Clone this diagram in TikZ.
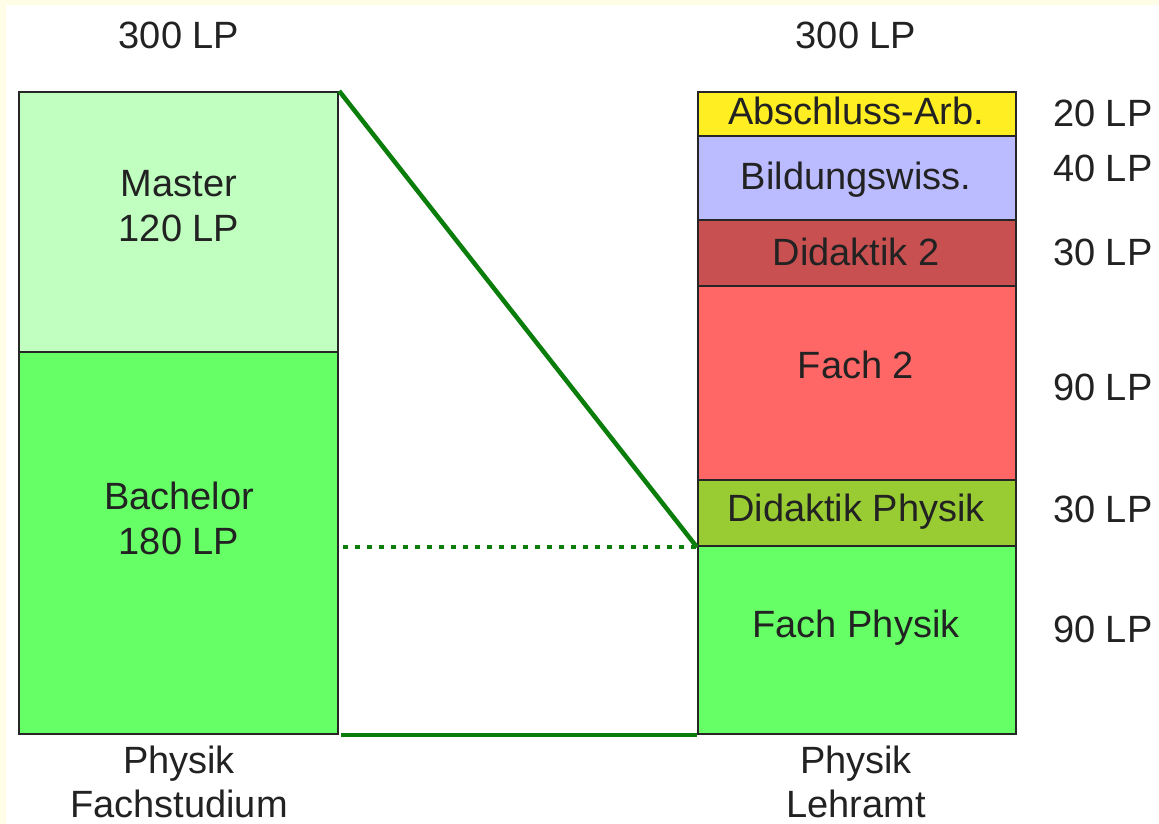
\documentclass[tikz,border=0pt]{standalone}
\usepackage{fontspec}
\setmainfont{Liberation Sans}
\definecolor{cream}{HTML}{FFFDE6}
\definecolor{txt}{HTML}{222222}
\definecolor{cMaster}{HTML}{C0FFC0}
\definecolor{cBach}{HTML}{66FF66}
\definecolor{cAbs}{HTML}{FFEE22}
\definecolor{cBild}{HTML}{BBBBFF}
\definecolor{cDid}{HTML}{C85050}
\definecolor{cFach}{HTML}{FF6666}
\definecolor{cDidP}{HTML}{99CC33}
\definecolor{cFachP}{HTML}{66FF66}
\definecolor{lineG}{HTML}{0B7D0B}
\begin{document}
\begin{tikzpicture}[x=1pt,y=-1pt,
  box/.style={draw=black!85, line width=2.2pt, inner sep=0pt, anchor=north west},
  lbl/.style={font=\fontsize{38}{45}\selectfont, text=txt, anchor=base, inner sep=0pt, align=center},
  lp/.style={font=\fontsize{38}{45}\selectfont, text=txt, anchor=base west, inner sep=0pt},
  conn/.style={draw=lineG, line width=4.5pt},
  dotconn/.style={draw=lineG, line width=4.5pt, dash pattern=on 5pt off 7pt}]
\useasboundingbox (0,0) rectangle (1159,824);
\fill[cream] (0,0) rectangle (1159,824);
\fill[white] (6,5) rectangle (1159,824);
\clip (0,0) rectangle (1159,824);
% left column
\node[box, fill=cMaster, minimum width=319pt, minimum height=260pt] (master) at (18,91) {};
\node[box, fill=cBach, minimum width=319pt, minimum height=382pt] (bach) at (18,351) {};
% right column
\node[box, fill=cAbs, minimum width=318pt, minimum height=44pt] (abs) at (697,91) {};
\node[box, fill=cBild, minimum width=318pt, minimum height=84pt] (bild) at (697,135) {};
\node[box, fill=cDid, minimum width=318pt, minimum height=66pt] (did) at (697,219) {};
\node[box, fill=cFach, minimum width=318pt, minimum height=194pt] (fach) at (697,285) {};
\node[box, fill=cDidP, minimum width=318pt, minimum height=66pt] (didp) at (697,479) {};
\node[box, fill=cFachP, minimum width=318pt, minimum height=188pt] (fachp) at (697,545) {};
% connectors
\coordinate (dotstart) at ([xshift=4pt]bach.east |- didp.south west);
\draw[conn] (master.north east) -- (didp.south west);
\draw[conn] ([xshift=2pt]bach.south east) -- (fachp.south west);
\draw[dotconn] (dotstart) -- (didp.south west);
% headings
\node[lbl] (h1) at (179,49) {300 LP};
\node[lbl] (h2) at (856,49) {300 LP};
% box texts
\node[lbl] (tm1) at (179,196) {Master};
\node[lbl] (tm2) at (179,241) {120 LP};
\node[lbl] (tb1) at (179,509) {Bachelor};
\node[lbl] (tb2) at (179,554) {180 LP};
\node[lbl] (ta) at (856,125) {Abschluss-Arb.};
\node[lbl] (tbi) at (856,189) {Bildungswiss.};
\node[lbl] (td) at (856,265) {Didaktik 2};
\node[lbl] (tf) at (856,378) {Fach 2};
\node[lbl] (tdp) at (856,521) {Didaktik Physik};
\node[lbl] (tfp) at (856,637) {Fach Physik};
% LP labels
\node[lp] (l1) at (1053,127) {20 LP};
\node[lp] (l2) at (1053,181) {40 LP};
\node[lp] (l3) at (1053,265) {30 LP};
\node[lp] (l4) at (1053,400) {90 LP};
\node[lp] (l5) at (1053,522) {30 LP};
\node[lp] (l6) at (1053,642) {90 LP};
% bottom labels
\node[lbl] (b1) at (179,773) {Physik};
\node[lbl] (b2) at (179,817) {Fachstudium};
\node[lbl] (b3) at (856,773) {Physik};
\node[lbl] (b4) at (856,817) {Lehramt};
\end{tikzpicture}
\end{document}
